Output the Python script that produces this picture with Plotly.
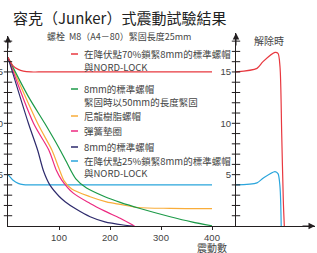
import plotly.graph_objects as go

# ---------------- data ----------------
red_x = [0, 10, 20, 30, 45, 60, 400]
red_y = [16.4, 15.6, 15.25, 15.08, 15.0, 15.0, 15.0]

green_x = [0, 40, 72, 100, 115, 133, 154, 190, 220, 259, 318, 360, 400]
green_y = [16.4, 12.6, 10.0, 7.6, 6.2, 4.6, 3.7, 2.85, 2.3, 1.7, 0.9, 0.4, 0.02]

orange_x = [0, 58, 86, 100, 110, 125, 161, 193, 220, 255, 318, 400]
orange_y = [16.4, 10.0, 7.4, 5.6, 4.4, 3.6, 2.85, 2.35, 2.1, 1.8, 1.72, 1.7]

pink_x = [0, 50, 80, 95, 105, 128, 161, 190, 220, 248]
pink_y = [16.4, 10.0, 7.4, 5.4, 4.5, 3.2, 2.2, 1.45, 0.75, 0.0]

navy_x = [0, 40, 58, 70, 82, 100, 112, 135, 161, 190, 226, 245]
navy_y = [16.4, 10.0, 7.4, 5.3, 4.0, 2.9, 2.37, 1.6, 0.9, 0.4, 0.1, 0.0]

blue_x = [0, 10, 20, 30, 45, 400]
blue_y = [5.0, 4.45, 4.15, 4.03, 4.0, 4.0]

# release phase (right panel, arbitrary time units)
rel_red_x = [0, 21, 27, 39, 42, 44, 45.7, 47.3, 48.3]
rel_red_y = [15.0, 15.35, 16.0, 16.9, 16.8, 15.5, 9.0, 2.5, 0.0]
rel_blue_x = [0, 21, 27, 39, 42, 44, 45.2]
rel_blue_y = [4.0, 4.2, 4.65, 5.3, 5.1, 3.8, 0.0]

x_ticks = [100, 200, 300, 400]
y_ticks = [5, 10, 15]
minor_ticks = list(range(1, 19))

title = "容克（Junker）式震動試驗結果"
subtitle = "螺栓  M8（A4－80）緊固長度25mm"
release_label = "解除時"
x_title = "震動數"
legend_entries = [
    ("#e8383f", ["在降伏點70%鎖緊8mm的標準螺帽", "與NORD-LOCK"]),
    ("#1c9a48", ["8mm的標準螺帽", "緊固時以50mm的長度緊固"]),
    ("#f9ad3a", ["尼龍樹脂螺帽"]),
    ("#ec2a80", ["彈簧墊圈"]),
    ("#2d2a6c", ["8mm的標準螺帽"]),
    ("#2aa5dc", ["在降伏點25%鎖緊8mm的標準螺帽", "與NORD-LOCK"]),
]

RED, GREEN, ORANGE, PINK, NAVY, BLUE = [c for c, _ in legend_entries]
AX = "#231f20"
TXT = "#444444"
FONT = "Noto Sans CJK TC"
NUMFONT = "Liberation Sans"

# ---------------- layout geometry ----------------
W, H = 317, 253
ML, MR, MT, MB = 8, 2, 33, 27
PW = W - ML - MR
PH = H - MT - MB


def px(xpix):
    return (xpix - ML) / PW


def py(ypix):
    return (H - MB - ypix) / PH


split = px(236)

fig = go.Figure()


def line(x, y, color, xa="x", ya="y", width=1.2):
    fig.add_trace(go.Scatter(x=x, y=y, mode="lines", xaxis=xa, yaxis=ya,
                             line=dict(color=color, width=width, shape="spline", smoothing=0.8),
                             showlegend=False, hoverinfo="skip"))


line(blue_x, blue_y, BLUE)
line(orange_x, orange_y, ORANGE)
line(green_x, green_y, GREEN)
line(pink_x, pink_y, PINK)
line(navy_x, navy_y, NAVY)
line(red_x, red_y, RED)
line(rel_blue_x, rel_blue_y, BLUE, "x2", "y2")
line(rel_red_x, rel_red_y, RED, "x2", "y2")

# crossing minor ticks on both vertical axes
for xa, ya in (("x", "y"), ("x2", "y2")):
    fig.add_trace(go.Scatter(x=[0] * len(minor_ticks), y=minor_ticks, mode="markers",
                             xaxis=xa, yaxis=ya, cliponaxis=False,
                             marker=dict(symbol="line-ew", size=6,
                                         line=dict(color=AX, width=1)),
                             showlegend=False, hoverinfo="skip"))

tickfont = dict(family=NUMFONT, size=9.5, color=TXT)
common = dict(showline=True, linecolor=AX, linewidth=1, showgrid=False, zeroline=False,
              automargin=False)
fig.update_layout(
    width=W, height=H,
    margin=dict(l=ML, r=MR, t=MT, b=MB, autoexpand=False),
    paper_bgcolor="white", plot_bgcolor="white",
    font=dict(family=FONT),
    xaxis=dict(domain=[0, split], range=[0, (236 - ML) / 0.51], tickvals=x_ticks,
               ticks="outside", ticklen=3, tickcolor=AX, tickfont=tickfont, **common),
    xaxis2=dict(domain=[split, 1], range=[0, 79], showticklabels=False, **common),
    yaxis=dict(domain=[0, py(36)], range=[0, (226 - 36) / 10.27], tickvals=y_ticks,
               ticks="outside", ticklen=2, tickcolor="rgba(0,0,0,0)", tickfont=tickfont,
               **common),
    yaxis2=dict(domain=[0, 1], range=[0, (226 - 33) / 10.27], tickvals=y_ticks, anchor="x2",
                ticks="outside", ticklen=2, tickcolor="rgba(0,0,0,0)", tickfont=tickfont,
                **common),
)

ann = []
# arrows
ann.append(dict(xref="paper", yref="paper", x=0, y=py(36), ax=0, ay=14, text="",
                showarrow=True, arrowhead=2, arrowsize=1.3, arrowwidth=1, arrowcolor=AX))
ann.append(dict(xref="paper", yref="paper", x=split, y=1, ax=0, ay=14, text="",
                showarrow=True, arrowhead=2, arrowsize=1.3, arrowwidth=1, arrowcolor=AX))
ann.append(dict(xref="paper", yref="paper", x=1, y=0, ax=-14, ay=0, text="",
                showarrow=True, arrowhead=2, arrowsize=1.3, arrowwidth=1, arrowcolor=AX))

ann.append(dict(xref="paper", yref="paper", x=px(119), y=py(18), text=title,
                showarrow=False, xanchor="center", yanchor="middle",
                font=dict(family=FONT, size=15, color="#222222")))
ann.append(dict(xref="paper", yref="paper", x=px(119), y=py(37), text=subtitle,
                showarrow=False, xanchor="center", yanchor="middle",
                font=dict(family=FONT, size=9, color=TXT)))
ann.append(dict(xref="paper", yref="paper", x=px(269), y=py(40), text=release_label,
                showarrow=False, xanchor="center", yanchor="middle",
                font=dict(family=FONT, size=10, color=TXT)))
ann.append(dict(xref="paper", yref="paper", x=px(212), y=py(247), text=x_title,
                showarrow=False, xanchor="center", yanchor="middle",
                font=dict(family=FONT, size=10, color=TXT)))

legend_tops = [54, 89, 116, 131, 147, 161]
shapes = []
for (color, lines), ytop in zip(legend_entries, legend_tops):
    shapes.append(dict(type="line", xref="paper", yref="paper",
                       x0=px(71), x1=px(78), y0=py(ytop), y1=py(ytop),
                       line=dict(color=color, width=1.5)))
    for i, t in enumerate(lines):
        ann.append(dict(xref="paper", yref="paper", x=px(82), y=py(ytop + 12.5 * i),
                        text=t, showarrow=False, xanchor="left", yanchor="middle",
                        font=dict(family=FONT, size=9.5, color=TXT)))

fig.update_layout(annotations=ann, shapes=shapes)
fig.write_html("out.html", config={"displayModeBar": False, "staticPlot": True},
               post_script="document.body.style.margin='0';")
